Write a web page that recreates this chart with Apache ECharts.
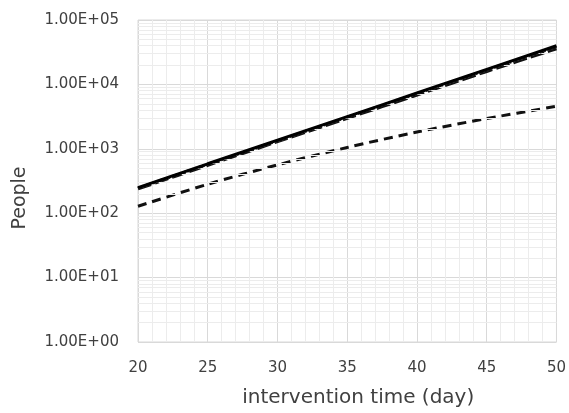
<!DOCTYPE html>
<html>
<head>
<meta charset="utf-8">
<script src="https://cdn.jsdelivr.net/npm/echarts@6/dist/echarts.min.js"></script>
<style>
  html, body { margin: 0; padding: 0; background: #fff; }
  #chart { width: 569px; height: 413px; }
</style>
</head>
<body>
<div id="chart"></div>
<script>
const days = [20, 25, 30, 35, 40, 45, 50];
const solidValues = [250, 585, 1360, 3160, 7360, 17100, 39800];
const dottedValues = [245, 575, 1330, 3100, 7200, 16700, 38500];
const longDashValues = [240, 560, 1300, 3000, 6900, 16000, 36000];
const lowerValues = [128, 282, 562, 1050, 1820, 2950, 4570];

const xTicks = [20, 25, 30, 35, 40, 45, 50];
const yDecades = [1, 10, 100, 1000, 10000, 100000];

// log minor gridlines (2..9 in each decade), drawn as mark lines
const minorGrid = [];
yDecades.slice(0, -1).forEach(d => {
  for (let m = 2; m <= 9; m++) minorGrid.push({ yAxis: d * m });
});

const fmtExp = v => {
  const e = Math.round(Math.log10(v));
  const m = v / Math.pow(10, e);
  return m.toFixed(2) + 'E' + (e >= 0 ? '+' : '-') + String(Math.abs(e)).padStart(2, '0');
};

const pts = vals => days.map((d, i) => [d, vals[i]]);
const font = '"DejaVu Sans", sans-serif';

const chart = echarts.init(document.getElementById('chart'), null, { renderer: 'canvas' });

chart.setOption({
  animation: false,
  grid: { left: 138, right: 11, top: 20, bottom: 68, show: true, borderColor: '#d9d9d9', borderWidth: 1 },
  xAxis: {
    type: 'value',
    min: xTicks[0],
    max: xTicks[xTicks.length - 1],
    interval: 5,
    name: 'intervention time (day)',
    nameLocation: 'middle',
    nameGap: 46,
    nameTextStyle: { fontFamily: font, fontSize: 20, color: '#404040', padding: [0, 0, 0, 22] },
    axisLine: { show: false },
    axisTick: { show: false },
    axisLabel: { fontFamily: font, fontSize: 15, color: '#404040', margin: 19 },
    splitLine: { show: true, lineStyle: { color: '#d9d9d9', width: 1 } },
    minorTick: { show: false, splitNumber: 5 },
    minorSplitLine: { show: true, lineStyle: { color: '#ececec', width: 1 } }
  },
  yAxis: {
    type: 'log',
    logBase: 10,
    min: yDecades[0],
    max: yDecades[yDecades.length - 1],
    name: 'People',
    nameLocation: 'middle',
    nameGap: 108,
    nameTextStyle: { fontFamily: font, fontSize: 19, color: '#404040', padding: [0, 34, 0, 0] },
    axisLine: { show: false },
    axisTick: { show: false },
    axisLabel: { fontFamily: font, fontSize: 15, color: '#404040', margin: 19, formatter: fmtExp },
    splitLine: { show: true, lineStyle: { color: '#d9d9d9', width: 1 } }
  },
  series: [
    {
      type: 'line',
      data: [],
      silent: true,
      z: 1,
      markLine: {
        silent: true,
        symbol: ['none', 'none'],
        label: { show: false },
        lineStyle: { color: '#ececec', width: 1, type: 'solid' },
        animation: false,
        data: minorGrid
      }
    },
    {
      name: 'lower',
      type: 'line',
      data: pts(lowerValues),
      smooth: 0.3,
      symbol: 'none',
      z: 3,
      lineStyle: { color: '#111', width: 3, type: [9, 6] }
    },
    {
      name: 'long dash',
      type: 'line',
      data: pts(longDashValues),
      smooth: 0.3,
      symbol: 'none',
      z: 4,
      lineStyle: { color: '#111', width: 3.5, type: [14, 4] }
    },
    {
      name: 'dotted',
      type: 'line',
      data: pts(dottedValues),
      smooth: 0.3,
      symbol: 'none',
      z: 5,
      lineStyle: { color: '#333', width: 3, type: [2, 2] }
    },
    {
      name: 'solid',
      type: 'line',
      data: pts(solidValues),
      smooth: 0.3,
      symbol: 'none',
      z: 6,
      lineStyle: { color: '#000', width: 3, type: 'solid' }
    }
  ]
});
</script>
</body>
</html>
